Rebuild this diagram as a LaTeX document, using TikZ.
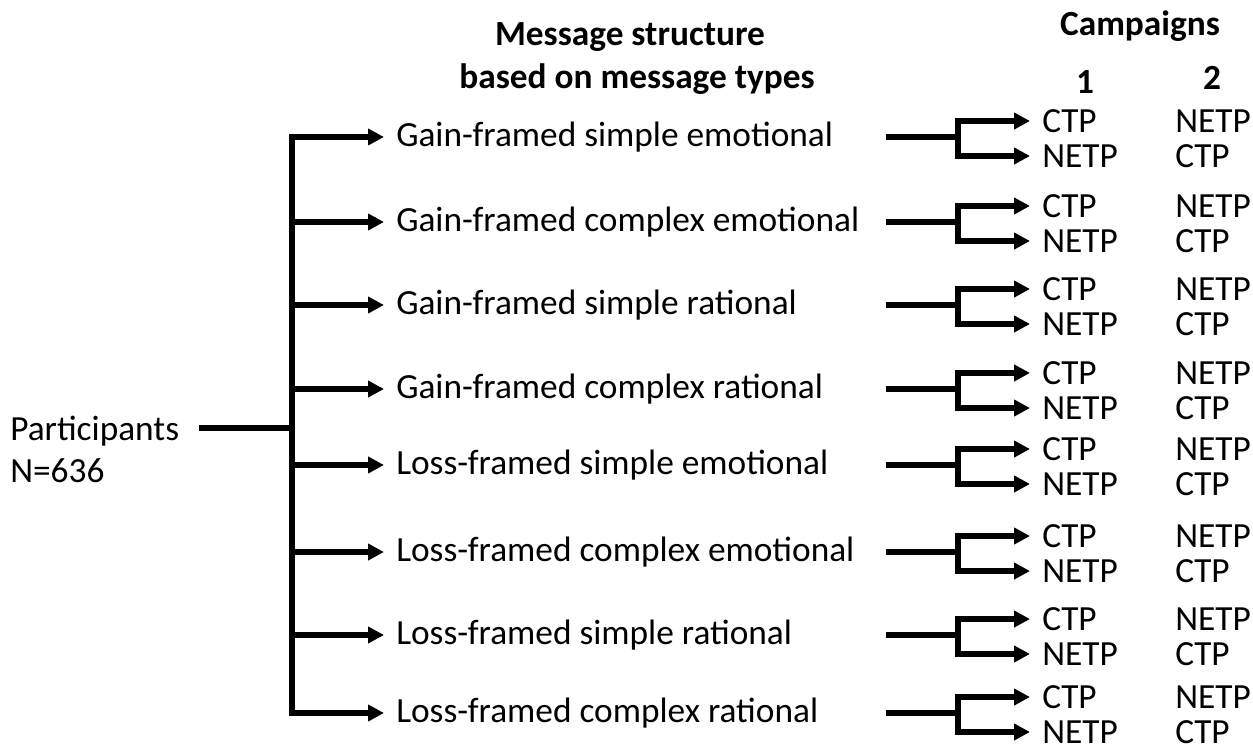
\documentclass[tikz,border=0pt]{standalone}
\usepackage{fontspec}
\setmainfont{Carlito}
\usetikzlibrary{arrows.meta}

\begin{document}
\begin{tikzpicture}[x=0.75pt,y=-0.75pt,
  font=\fontsize{26.5}{31.5}\selectfont,
  line/.style={line width=4.2pt,line join=miter},
  arr/.style={line,-{Triangle[length=12pt,width=12pt]}},
  lbl/.style={anchor=west,inner xsep=9pt,inner ysep=1pt},
  hd/.style={font=\fontsize{26.5}{31.5}\selectfont\bfseries}]
  \useasboundingbox (0,0) rectangle (1253,753);
  % headings
  \node[hd] (ms) at (630,37) {Message structure};
  \node[hd] (mt) at (637,79) {based on message types};
  \node[hd] (cp) at (1140,26) {Campaigns};
  \node[hd] (c1) at (1085,82) {1};
  \node[hd] (c2) at (1212,78) {2};
  % participants
  \node[align=left,anchor=west,inner sep=0pt] (part) at (10,449) {Participants\\N=636};
  \coordinate (pin) at (199,428);
  \coordinate (tk) at (292,428);
  % message types
  \foreach \y/\t [count=\i] in {137/Gain-framed simple emotional,222/Gain-framed complex emotional,
    305/Gain-framed simple rational,389/Gain-framed complex rational,465/Loss-framed simple emotional,
    552/Loss-framed complex emotional,635/Loss-framed simple rational,713/Loss-framed complex rational}{
    \node[lbl] (m\i) at (384,\y) {\t};
    \coordinate (f\i) at (886,\y);
    \coordinate (k\i) at (958,\y);
    \node[lbl] (a\i) at (1030,\y-16) {CTP};
    \node[lbl] (b\i) at (1030,\y+19) {NETP};
    \node[lbl] (x\i) at (1163,\y-16) {NETP};
    \node[lbl] (z\i) at (1163,\y+19) {CTP};
    \draw[line] (f\i) -- (k\i);
    \draw[arr] (k\i) |- (a\i.west);
    \draw[arr] (k\i) |- (b\i.west);
  }
  \draw[line] (pin) -- (tk);
  \draw[line,{Triangle[length=12pt,width=12pt]}-{Triangle[length=12pt,width=12pt]}] (m1.west) -| (tk) |- (m8.west);
  \foreach \i in {2,...,7}
    \draw[arr] (m\i.west -| tk) -- (m\i.west);
\end{tikzpicture}
\end{document}
